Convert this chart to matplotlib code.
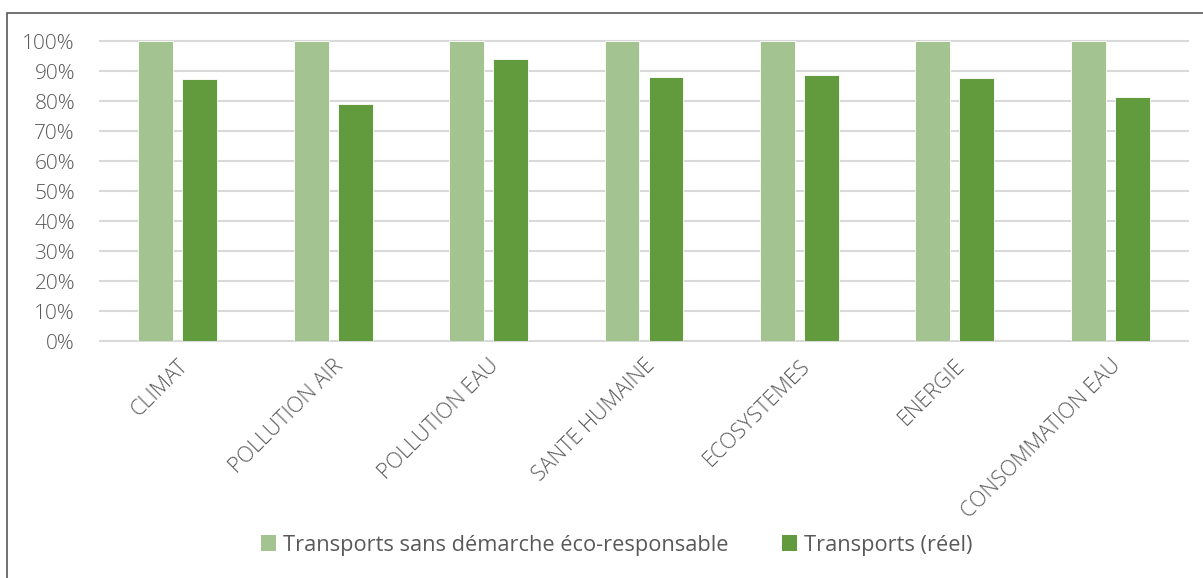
import numpy as np
import matplotlib.pyplot as plt
import matplotlib.transforms as mtransforms
from matplotlib.patches import Rectangle, Patch

categories = ['CLIMAT', 'POLLUTION AIR', 'POLLUTION EAU', 'SANTE HUMAINE',
              'ECOSYSTEMES', 'ENERGIE', 'CONSOMMATION EAU']
sans_demarche = [1.00, 1.00, 1.00, 1.00, 1.00, 1.00, 1.00]
reel = [0.874, 0.791, 0.941, 0.881, 0.889, 0.877, 0.814]

light_green = '#A3C491'
dark_green = '#629A3E'
text_col = '#595959'

plt.rcParams['font.family'] = ['Open Sans', 'DejaVu Sans']
plt.rcParams['font.weight'] = 'light'

W, H = 1203, 578
fig = plt.figure(figsize=(W / 100, H / 100), dpi=100)
ax = fig.add_axes([100 / W, 1 - 341.3 / H, 1088 / W, 300 / H])

x = np.arange(len(categories))
bw = 0.225
off = 0.1416
ax.bar(x - off, sans_demarche, bw, color=light_green, edgecolor='white', linewidth=0.6, zorder=3)
ax.bar(x + off, reel, bw, color=dark_green, edgecolor='white', linewidth=0.6, zorder=3)

ax.set_xlim(-0.5, len(categories) - 0.5)
ax.set_ylim(0, 1)
yt = np.arange(0, 1.01, 0.1)
ax.set_yticks(yt)
ax.set_yticklabels(['%d%%' % round(v * 100) for v in yt], fontsize=15, color=text_col)
for v in yt:
    ax.axhline(v, color='#D9D9D9', linewidth=1.5, zorder=1, clip_on=False)

ax.set_xticks(x)
ax.set_xticklabels(categories, rotation=45, ha='right', rotation_mode='anchor',
                   fontsize=15.5, color=text_col)
shift = mtransforms.ScaledTranslation(-4 / 100, 0, fig.dpi_scale_trans)
for lbl in ax.get_xticklabels():
    lbl.set_transform(lbl.get_transform() + shift)
ax.tick_params(axis='both', length=0)
ax.tick_params(axis='x', pad=10)
ax.tick_params(axis='y', pad=18)
for s in ax.spines.values():
    s.set_visible(False)

handles = [Patch(facecolor=light_green, label='Transports sans démarche éco-responsable'),
           Patch(facecolor=dark_green, label='Transports (réel)')]
fig.legend(handles=handles, loc='center', bbox_to_anchor=(616.5 / W, 1 - 545 / H), ncol=2,
           frameon=False, prop={'size': 15.7, 'weight': 'normal'}, labelcolor=text_col,
           handlelength=0.7, handleheight=0.7, handletextpad=0.3, columnspacing=2.45)

# outer chart frame
fig.patches.append(Rectangle((7 / W, -0.1), 1.2, 1 - 13 / H + 0.1, transform=fig.transFigure,
                             fill=False, edgecolor='#595959', linewidth=1.2))

fig.savefig('out.png', dpi=100)
